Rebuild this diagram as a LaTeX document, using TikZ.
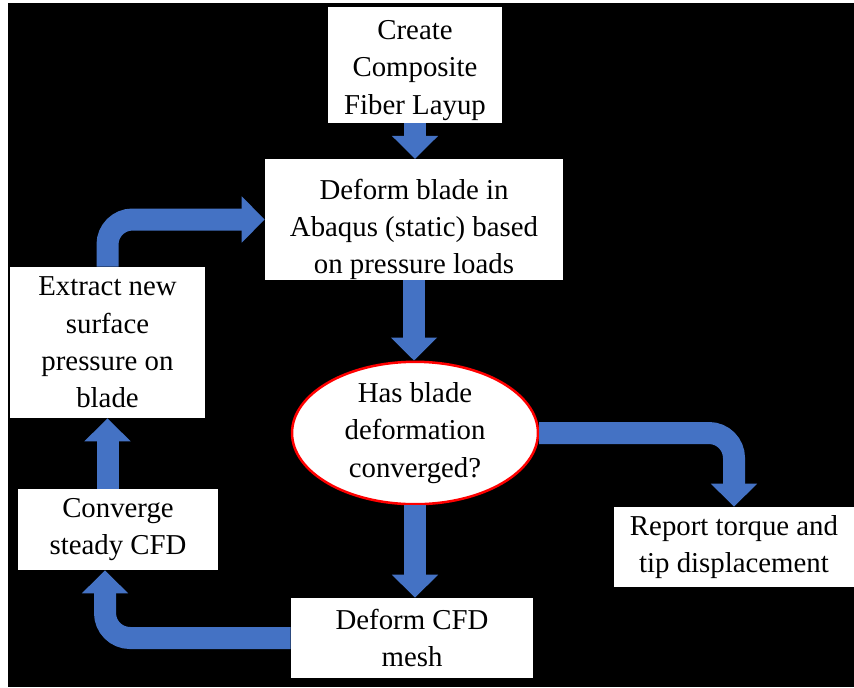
\documentclass[tikz,border=0pt]{standalone}
\usepackage{fontspec}
\setmainfont{Liberation Serif}
\usetikzlibrary{shapes.geometric,arrows.meta}
\definecolor{flowblue}{HTML}{4472C4}
\begin{document}
\begin{tikzpicture}[x=0.02cm, y=-0.02cm,
    every node/.style={fill=white, align=center, inner sep=0pt, font=\fontsize{16.4}{21.2}\selectfont},
    stepbox/.style={rectangle},
    flow/.style={draw=flowblue, line width=0.44cm, rounded corners=0.5cm, -{Triangle[width=0.9cm,length=0.46cm]}}]
    \useasboundingbox (0,0) rectangle (854,687);
    \fill[white] (0,0) rectangle (854,687);
    \fill[black] (8,3) rectangle (854,687);

    \node[stepbox, minimum width=3.48cm, minimum height=2.32cm] (create) at (415,65) {\rule{0pt}{0.6cm}Create\\Composite\\Fiber Layup};
    \node[stepbox, minimum width=5.96cm, minimum height=2.3cm] (deform) at (414,219.5) {\rule{0pt}{0.8cm}Deform blade in\\Abaqus (static) based\\on pressure loads};
    \node[ellipse, draw=red, line width=0.05cm, minimum width=4.92cm, minimum height=2.8cm] (conv) at (415,433) {Has blade\\deformation\\converged?};
    \node[stepbox, minimum width=4.84cm, minimum height=1.6cm] (cfd) at (412,638) {Deform CFD\\mesh};
    \node[stepbox, minimum width=4cm, minimum height=1.62cm] (steady) at (118,529.5) {Converge\\steady CFD};
    \node[stepbox, minimum width=3.9cm, minimum height=3.02cm] (extract) at (107.5,342.5) {Extract new\\surface\\pressure on\\blade};
    \node[stepbox, minimum width=4.8cm, minimum height=1.6cm] (report) at (734,547) {Report torque and\\tip displacement};

    \draw[flow] (create.south) -- (create.south |- deform.north);
    \draw[flow] (deform.south) -- (deform.south |- conv.north);
    \draw[flow] (conv.south) -- (conv.south |- cfd.north);
    \draw[flow] (conv.east) -| (report.north);
    \draw[flow] (cfd.west) -| ([xshift=-0.26cm]steady.south);
    \draw[flow] (steady.north -| extract.south) -- (extract.south);
    \draw[flow] (extract.north) |- (deform.west);
\end{tikzpicture}
\end{document}
